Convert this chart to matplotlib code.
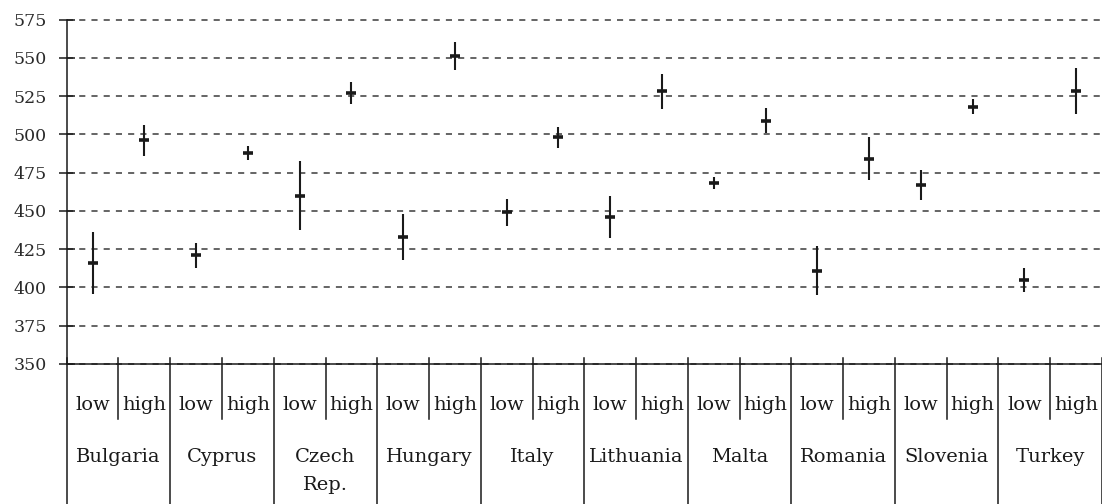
import numpy as np
import matplotlib
matplotlib.use('Agg')
import matplotlib.pyplot as plt

countries = ['Bulgaria', 'Cyprus', 'Czech\nRep.', 'Hungary', 'Italy',
             'Lithuania', 'Malta', 'Romania', 'Slovenia', 'Turkey']
groups = ['low', 'high']

# mean score and half-width of the interval, low then high for each country
low_mean = [416, 421, 460, 433, 449, 446, 468, 411, 467, 405]
low_err = [20.5, 8, 22.5, 15, 9, 13.5, 4, 16, 10, 8]
high_mean = [496, 488, 527, 551, 498, 528, 509, 484, 518, 528]
high_err = [10, 4.5, 7, 9, 7, 11.5, 8, 14, 5, 15]

means = np.ravel(np.column_stack([low_mean, high_mean]))
errs = np.ravel(np.column_stack([low_err, high_err]))
x = np.arange(len(means)) + 0.5

plt.rcParams['font.family'] = 'DejaVu Serif'
ink = '#1a1a1a'

fig = plt.figure(figsize=(11.02, 5.04), dpi=100)
ax = fig.add_axes([0.0605, 0.2778, 0.9395, 0.6835])

ax.set_xlim(0, len(means))
ax.set_ylim(350, 575)
ax.set_yticks(np.arange(350, 576, 25))
ax.yaxis.grid(True, color='#3a3a3a', linestyle=(0, (4.0, 4.0)), linewidth=1.1)
ax.set_axisbelow(True)
for gl in ax.yaxis.get_gridlines():
    gl.set_clip_on(False)

for s in ['top', 'right']:
    ax.spines[s].set_visible(False)
for s in ['left', 'bottom']:
    ax.spines[s].set_color(ink)
    ax.spines[s].set_linewidth(1.1)

ax.tick_params(axis='y', direction='inout', length=11, width=1.1, color=ink,
               labelsize=12.5, pad=9, labelcolor='#2a2a2a')
ax.set_xticks([])

ax.errorbar(x, means, yerr=errs, fmt='_', color=ink, ms=7, mew=2.6,
            elinewidth=1.5, capsize=0, zorder=3)

# category table below the axis
tr = ax.get_xaxis_transform()
for b in range(len(means) + 1):
    bottom = -0.42 if b % 2 == 0 else -0.16
    ax.plot([b, b], [0.0174, bottom], color=ink, lw=1.1, transform=tr,
            clip_on=False)

for i, xi in enumerate(x):
    ax.text(xi, -0.119, groups[i % 2], transform=tr, ha='center', va='center',
            fontsize=14, color=ink)

for i, name in enumerate(countries):
    ax.text(2 * i + 1, -0.244, name, transform=tr, ha='center', va='top',
            fontsize=14, color=ink, linespacing=1.7)

fig.savefig('out.png', dpi=100)
